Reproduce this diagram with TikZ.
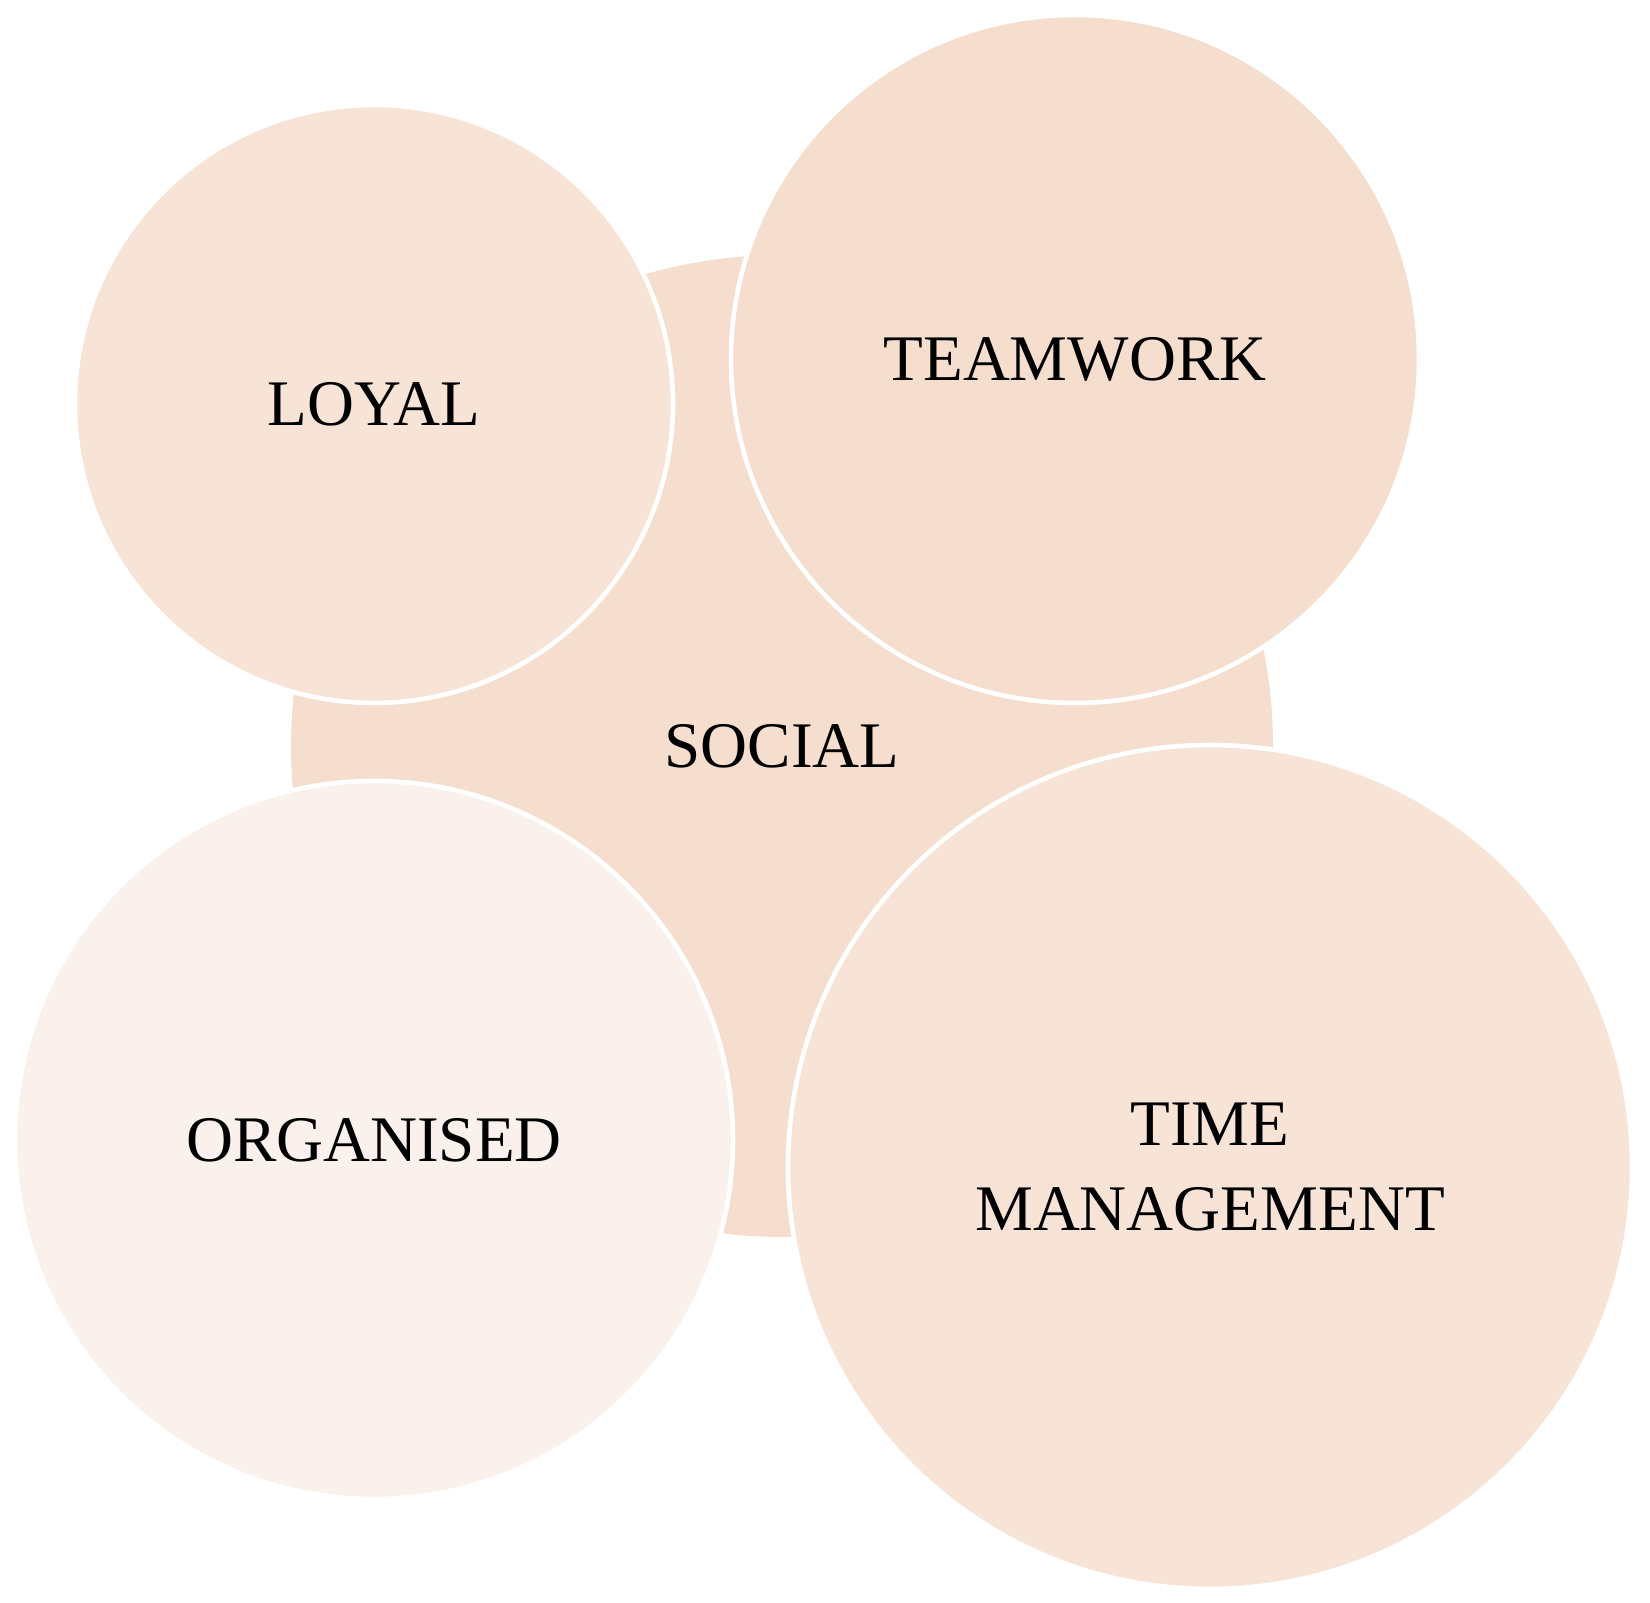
\documentclass[tikz,border=0pt]{standalone}
\usepackage{fontspec}
\setmainfont{Liberation Serif}
\usepackage{tikz}
\definecolor{Peach}{RGB}{245,222,205}
\definecolor{LightPeach}{RGB}{247,228,215}
\definecolor{PalePeach}{RGB}{250,241,236}

\begin{document}
\begin{tikzpicture}
\useasboundingbox (0,0) rectangle (16.5,16.03);
\tikzset{bubble/.style={circle,draw=white,line width=1.3pt,inner sep=0pt,outer sep=0pt,align=center,font=\fontsize{18.5}{24}\selectfont}}
\node[bubble,fill=Peach,minimum size=9.82cm,draw=none] (social) at (7.82,8.57) {SOCIAL};
\node[bubble,fill=LightPeach,minimum size=5.98cm] (loyal) at (3.74,11.99) {LOYAL};
\node[bubble,fill=Peach,minimum size=6.88cm] (team) at (10.75,12.44) {TEAMWORK};
\node[bubble,fill=PalePeach,minimum size=7.18cm] (org) at (3.74,4.63) {ORGANISED};
\node[bubble,fill=LightPeach,minimum size=8.44cm] (time) at (12.10,4.36) {TIME\\MANAGEMENT};
\end{tikzpicture}
\end{document}
